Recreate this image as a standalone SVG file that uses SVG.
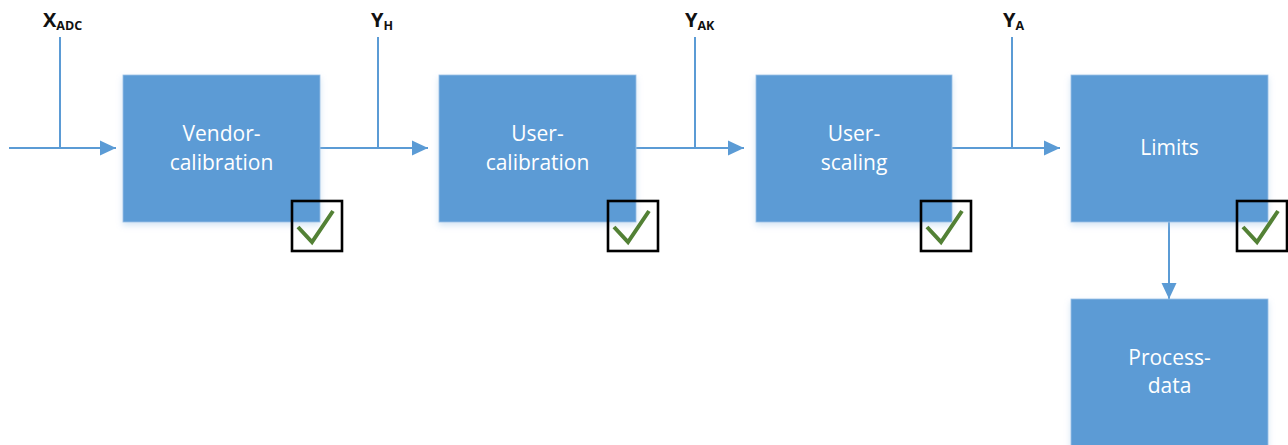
<svg xmlns="http://www.w3.org/2000/svg" width="1288" height="445" viewBox="0 0 1288 445">
<style>
.box{fill:#5B9BD5;stroke:#9cc0e6;stroke-width:0.8;filter:url(#sh)}
.lbl{font-family:"Open Sans","Liberation Sans",sans-serif;font-size:21px;fill:#ffffff;text-anchor:middle}
.sig{font-family:"Open Sans","Liberation Sans",sans-serif;font-weight:bold;font-size:20px;fill:#111111}
.sub{font-size:12.5px}
.ln{stroke:#5B9BD5;stroke-width:2;fill:none}
.cb{fill:none;stroke:#000000;stroke-width:2.6}
.ck{fill:none;stroke:#538135;stroke-width:4;stroke-linejoin:miter}
</style>
<defs>
<filter id="sh" x="-10%" y="-10%" width="120%" height="125%">
<feDropShadow dx="0" dy="3" stdDeviation="3" flood-color="#9dc3e6" flood-opacity="0.45"/>
</filter>
<marker id="ah" markerUnits="userSpaceOnUse" markerWidth="16" markerHeight="16" refX="16" refY="8" orient="auto">
<path d="M0,0.5 L16,8 L0,15.5 Z" fill="#5B9BD5"/>
</marker>
<g id="check">
<rect class="cb" x="0" y="0" width="50" height="50"/>
<path class="ck" d="M6,26 L20,41 L41,10"/>
</g>
</defs>
<g id="connectors">
<path class="ln" d="M9,148 H116" marker-end="url(#ah)"/>
<path class="ln" d="M60,37 V148"/>
<path class="ln" d="M320,148 H428" marker-end="url(#ah)"/>
<path class="ln" d="M378,37 V148"/>
<path class="ln" d="M636,148 H744" marker-end="url(#ah)"/>
<path class="ln" d="M695,37 V148"/>
<path class="ln" d="M952,148 H1060" marker-end="url(#ah)"/>
<path class="ln" d="M1012,37 V148"/>
<path class="ln" d="M1169,222 V299" marker-end="url(#ah)"/>
</g>
<g id="signals">
<text class="sig" x="43" y="27">X<tspan class="sub" dy="3">ADC</tspan></text>
<text class="sig" x="371" y="27">Y<tspan class="sub" dy="3">H</tspan></text>
<text class="sig" x="685" y="27">Y<tspan class="sub" dy="3">AK</tspan></text>
<text class="sig" x="1003" y="27">Y<tspan class="sub" dy="3">A</tspan></text>
</g>
<g id="vendor">
<rect class="box" x="123" y="75" width="197" height="147"/>
<text class="lbl" x="221.5" y="141">Vendor-</text>
<text class="lbl" x="221.5" y="170">calibration</text>
<use href="#check" x="292" y="201"/>
</g>
<g id="usercal">
<rect class="box" x="439" y="75" width="197" height="147"/>
<text class="lbl" x="537.5" y="141">User-</text>
<text class="lbl" x="537.5" y="170">calibration</text>
<use href="#check" x="608" y="201"/>
</g>
<g id="userscale">
<rect class="box" x="756" y="75" width="196" height="147"/>
<text class="lbl" x="854" y="141">User-</text>
<text class="lbl" x="854" y="170">scaling</text>
<use href="#check" x="921" y="201"/>
</g>
<g id="limits">
<rect class="box" x="1071" y="75" width="197" height="147"/>
<text class="lbl" x="1169.5" y="155">Limits</text>
<use href="#check" x="1237" y="201"/>
</g>
<g id="process">
<rect class="box" x="1071" y="299" width="197" height="160"/>
<text class="lbl" x="1169.5" y="365">Process-</text>
<text class="lbl" x="1169.5" y="393">data</text>
</g>
</svg>
